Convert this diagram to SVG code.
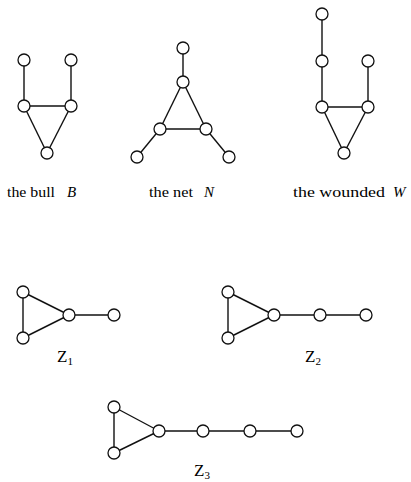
<svg xmlns="http://www.w3.org/2000/svg" width="411" height="482" viewBox="0 0 411 482">
<style>
.e{stroke:#111;stroke-width:1.4;fill:none}
.n{fill:#fff;stroke:#111;stroke-width:1.3}
.t{font-family:"Liberation Serif",serif;font-size:15px;fill:#000}
.i{font-style:italic}
.z{font-size:17px}
.s{font-size:11px}
</style>
<rect width="411" height="482" fill="#fff"/>
<g id="connectors">
<!-- bull -->
<line class="e" x1="24" y1="60" x2="24" y2="106"/>
<line class="e" x1="71" y1="60" x2="71" y2="106"/>
<line class="e" x1="24" y1="106" x2="71" y2="106"/>
<line class="e" x1="24" y1="106" x2="47" y2="153"/>
<line class="e" x1="71" y1="106" x2="47" y2="153"/>
<!-- net -->
<line class="e" x1="183" y1="48" x2="183" y2="82"/>
<line class="e" x1="183" y1="82" x2="160" y2="129"/>
<line class="e" x1="183" y1="82" x2="206" y2="129"/>
<line class="e" x1="160" y1="129" x2="206" y2="129"/>
<line class="e" x1="160" y1="129" x2="137" y2="157"/>
<line class="e" x1="206" y1="129" x2="229" y2="157"/>
<!-- wounded -->
<line class="e" x1="322" y1="14" x2="322" y2="107"/>
<line class="e" x1="368" y1="61" x2="368" y2="107"/>
<line class="e" x1="322" y1="107" x2="368" y2="107"/>
<line class="e" x1="322" y1="107" x2="344" y2="153"/>
<line class="e" x1="368" y1="107" x2="344" y2="153"/>
<!-- Z1 -->
<line class="e" x1="23" y1="292" x2="23" y2="338"/>
<line class="e" x1="23" y1="292" x2="69" y2="315"/>
<line class="e" x1="23" y1="338" x2="69" y2="315"/>
<line class="e" x1="69" y1="315" x2="114" y2="315"/>
<!-- Z2 -->
<line class="e" x1="228" y1="292" x2="228" y2="338"/>
<line class="e" x1="228" y1="292" x2="274" y2="315"/>
<line class="e" x1="228" y1="338" x2="274" y2="315"/>
<line class="e" x1="274" y1="315" x2="366" y2="315"/>
<!-- Z3 -->
<line class="e" x1="114" y1="407" x2="114" y2="453"/>
<line class="e" x1="114" y1="407" x2="159" y2="431"/>
<line class="e" x1="114" y1="453" x2="159" y2="431"/>
<line class="e" x1="159" y1="431" x2="297" y2="431"/>
</g>
<g id="bull">
<circle class="n" cx="24" cy="60" r="6"/>
<circle class="n" cx="71" cy="60" r="6"/>
<circle class="n" cx="24" cy="106" r="6"/>
<circle class="n" cx="71" cy="106" r="6"/>
<circle class="n" cx="47" cy="153" r="6"/>
<text class="t" x="7" y="197" textLength="48" lengthAdjust="spacingAndGlyphs">the bull</text>
<text class="t i" x="67" y="197">B</text>
</g>
<g id="net">
<circle class="n" cx="183" cy="48" r="6"/>
<circle class="n" cx="183" cy="82" r="6"/>
<circle class="n" cx="160" cy="129" r="6"/>
<circle class="n" cx="206" cy="129" r="6"/>
<circle class="n" cx="137" cy="157" r="6"/>
<circle class="n" cx="229" cy="157" r="6"/>
<text class="t" x="149" y="197" textLength="44" lengthAdjust="spacingAndGlyphs">the net</text>
<text class="t i" x="204" y="197">N</text>
</g>
<g id="wounded">
<circle class="n" cx="322" cy="14" r="6"/>
<circle class="n" cx="322" cy="61" r="6"/>
<circle class="n" cx="368" cy="61" r="6"/>
<circle class="n" cx="322" cy="107" r="6"/>
<circle class="n" cx="368" cy="107" r="6"/>
<circle class="n" cx="344" cy="153" r="6"/>
<text class="t" x="293" y="197" textLength="92" lengthAdjust="spacingAndGlyphs">the wounded</text>
<text class="t i" x="393" y="197">W</text>
</g>
<g id="Z1">
<circle class="n" cx="23" cy="292" r="6"/>
<circle class="n" cx="23" cy="338" r="6"/>
<circle class="n" cx="69" cy="315" r="6"/>
<circle class="n" cx="114" cy="315" r="6"/>
<text class="t z" x="57" y="362">Z<tspan class="s" dy="3">1</tspan></text>
</g>
<g id="Z2">
<circle class="n" cx="228" cy="292" r="6"/>
<circle class="n" cx="228" cy="338" r="6"/>
<circle class="n" cx="274" cy="315" r="6"/>
<circle class="n" cx="320" cy="315" r="6"/>
<circle class="n" cx="366" cy="315" r="6"/>
<text class="t z" x="305" y="362">Z<tspan class="s" dy="3">2</tspan></text>
</g>
<g id="Z3">
<circle class="n" cx="114" cy="407" r="6"/>
<circle class="n" cx="114" cy="453" r="6"/>
<circle class="n" cx="159" cy="431" r="6"/>
<circle class="n" cx="203" cy="431" r="6"/>
<circle class="n" cx="250" cy="431" r="6"/>
<circle class="n" cx="297" cy="431" r="6"/>
<text class="t z" x="194" y="476">Z<tspan class="s" dy="3">3</tspan></text>
</g>
</svg>
